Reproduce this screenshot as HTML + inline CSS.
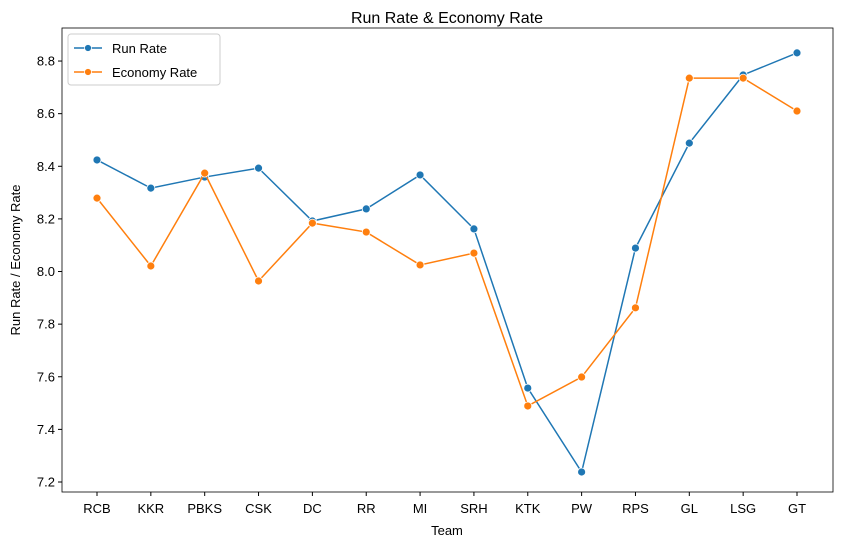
<!DOCTYPE html>
<html><head><meta charset="utf-8"><style>
body{margin:0;background:#fff;font-family:"Liberation Sans","DejaVu Sans",sans-serif}
text{font-family:"Liberation Sans","DejaVu Sans",sans-serif}
</style></head><body>
<svg id="chart" width="846" height="547">
<text x="447" y="23" text-anchor="middle" font-size="16">Run Rate &amp; Economy Rate</text>
<g id="grid"></g>
<rect x="62" y="28" width="771" height="464" fill="none" stroke="#000" stroke-width="0.8"/>
<text x="447" y="535" text-anchor="middle" font-size="13">Team</text>
<text transform="translate(20,260) rotate(-90)" text-anchor="middle" font-size="13">Run Rate / Economy Rate</text>
<g id="marks"></g>
<g>
<rect x="68" y="34" width="152" height="51" rx="3" fill="#fff" stroke="#ccc"/>
<g>
<line x1="74" y1="48" x2="102" y2="48" stroke="#1f77b4" stroke-width="1.5"/><circle cx="88" cy="48" r="3.5" fill="#1f77b4" stroke="#fff" stroke-width="0.8"/>
<text x="112" y="53" font-size="13">Run Rate</text></g>
<g>
<line x1="74" y1="72" x2="102" y2="72" stroke="#ff7f0e" stroke-width="1.5"/><circle cx="88" cy="72" r="3.5" fill="#ff7f0e" stroke="#fff" stroke-width="0.8"/>
<text x="112" y="77" font-size="13">Economy Rate</text></g>
</g>
</svg>
<script>
const teams=["RCB","KKR","PBKS","CSK","DC","RR","MI","SRH","KTK","PW","RPS","GL","LSG","GT"];
const runRate=[8.424,8.317,8.359,8.393,8.192,8.238,8.367,8.162,7.557,7.238,8.089,8.488,8.747,8.831];
const economyRate=[8.279,8.021,8.374,7.964,8.184,8.150,8.025,8.070,7.489,7.599,7.862,8.735,8.735,8.610];
const yTicks=[7.2,7.4,7.6,7.8,8.0,8.2,8.4,8.6,8.8];
const NS="http://www.w3.org/2000/svg";
const xs=i=>97+i*(700/(teams.length-1));
const ys=v=>482-(v-7.2)*263.1;
const g=document.getElementById('grid'),m=document.getElementById('marks');
function el(t,a,p){const e=document.createElementNS(NS,t);for(const k in a)e.setAttribute(k,a[k]);p.appendChild(e);return e;}
yTicks.forEach(v=>{const y=ys(v);
 const tk=el('line',{x1:58,x2:62,y1:y,y2:y,stroke:'#000'},g);
 
 
 const t=el('text',{x:55,y:y+4.5,'text-anchor':'end','font-size':13},g);t.textContent=v.toFixed(1);
 
 });
teams.forEach((c,i)=>{const x=xs(i);
 const tk=el('line',{x1:x,x2:x,y1:492,y2:496,stroke:'#000'},g);
 
 
 const t=el('text',{x:x,y:513,'text-anchor':'middle','font-size':13},g);t.textContent=c;
 
 });
function series(vals,color,name){
 const p=el('polyline',{points:vals.map((v,i)=>xs(i)+','+ys(v)).join(' '),fill:'none',stroke:color,'stroke-width':1.5},m);
 
 
 vals.forEach((v,i)=>{const c=el('circle',{cx:xs(i),cy:ys(v),r:4,fill:color,stroke:'#fff','stroke-width':0.8},m);
  
  });
}
series(runRate,'#1f77b4','run-rate');
series(economyRate,'#ff7f0e','economy-rate');
</script>
</body></html>
